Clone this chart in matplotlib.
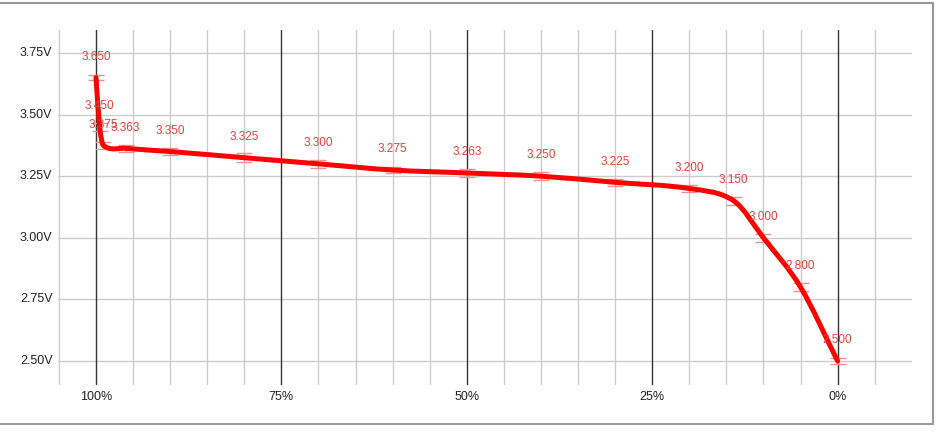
import matplotlib
matplotlib.use("Agg")
import matplotlib.pyplot as plt
import numpy as np
from matplotlib.patches import Rectangle
from matplotlib.path import Path
from matplotlib.patches import PathPatch

plt.rcParams['font.family'] = ['Liberation Sans', 'DejaVu Sans']

# Data
soc = [100, 99.5, 99, 96, 90, 80, 70, 60, 50, 40, 30, 20, 14, 10, 5, 0]
voltage = [3.650, 3.450, 3.375, 3.363, 3.350, 3.325, 3.300, 3.275, 3.263,
           3.250, 3.225, 3.200, 3.150, 3.000, 2.800, 2.500]
errors = [0.010, 0.015, 0.015, 0.014, 0.015, 0.018, 0.015, 0.014, 0.015,
          0.015, 0.015, 0.015, 0.015, 0.015, 0.015, 0.011]
labels = ["3.650", "3.450", "3.375", "3.363", "3.350", "3.325", "3.300", "3.275",
          "3.263", "3.250", "3.225", "3.200", "3.150", "3.000", "2.800", "2.500"]
y_ticks = [2.50, 2.75, 3.00, 3.25, 3.50, 3.75]
y_tick_labels = ["2.50V", "2.75V", "3.00V", "3.25V", "3.50V", "3.75V"]
x_ticks = [100, 75, 50, 25, 0]
x_tick_labels = ["100%", "75%", "50%", "25%", "0%"]
x_grid = [105, 100, 95, 90, 85, 80, 75, 70, 65, 60, 55, 50, 45, 40, 35, 30,
          25, 20, 15, 10, 5, 0, -5]

W, H = 944, 438
fig = plt.figure(figsize=(W / 100, H / 100), dpi=100)
ax = fig.add_axes([58 / W, (H - 385) / H, (912 - 58) / W, (385 - 30) / H])

ax.set_xlim(105.12, -10.03)
ax.set_ylim(2.403, 3.843)
for s in ax.spines.values():
    s.set_visible(False)
ax.set_xticks([])
ax.set_yticks([])

# gridlines
for yv in y_ticks:
    ax.axhline(yv, color='#cccccc', lw=1.0, zorder=1)
for xv in x_grid:
    major = xv in x_ticks
    ax.axvline(xv, color='#333333' if major else '#cccccc', lw=1.0, zorder=1)

# tick labels
for yv, lab in zip(y_ticks, y_tick_labels):
    ax.annotate(lab, xy=(0, yv), xycoords=('axes fraction', 'data'),
                xytext=(-4, 0), textcoords='offset points',
                ha='right', va='center', fontsize=9, color='#222222')
for xv, lab in zip(x_ticks, x_tick_labels):
    ax.annotate(lab, xy=(xv, 0), xycoords=('data', 'axes fraction'),
                xytext=(0, -9), textcoords='offset points',
                ha='center', va='center', fontsize=9, color='#222222')

# error bars
ax.errorbar(soc, voltage, yerr=errors, fmt='none', ecolor='#f29090',
            elinewidth=1.0, capsize=6, capthick=1.0, zorder=2)

# smooth line: cubic Hermite in x with centred-difference slopes
x = np.asarray(soc, float)
y = np.asarray(voltage, float)
n = len(x)
m = np.empty(n)
m[0] = (y[1] - y[0]) / (x[1] - x[0])
m[-1] = (y[-1] - y[-2]) / (x[-1] - x[-2])
for i in range(1, n - 1):
    m[i] = (y[i + 1] - y[i - 1]) / (x[i + 1] - x[i - 1])
verts = [(x[0], y[0])]
codes = [Path.MOVETO]
for i in range(n - 1):
    dx = x[i + 1] - x[i]
    c1 = (x[i] + dx / 3, y[i] + m[i] * dx / 3)
    c2 = (x[i + 1] - dx / 3, y[i + 1] - m[i + 1] * dx / 3)
    verts += [c1, c2, (x[i + 1], y[i + 1])]
    codes += [Path.CURVE4] * 3
path = Path(verts, codes)
ax.add_patch(PathPatch(path, facecolor='none', edgecolor='#ff0000', lw=3.6,
                       capstyle='round', joinstyle='round', zorder=3))

# data labels
for xv, yv, lab in zip(soc, voltage, labels):
    ax.annotate(lab, xy=(xv, yv), xytext=(0, 15), textcoords='offset points',
                ha='center', va='center', fontsize=8.5, color='#e8403c', zorder=4)

# outer frame
fig.patches.append(Rectangle((-2 / W, (H - 424) / H), (933 + 2) / W, (424 - 3) / H,
                             transform=fig.transFigure, fill=False,
                             edgecolor='#999999', lw=1.5))

fig.savefig('out.png', dpi=100)
